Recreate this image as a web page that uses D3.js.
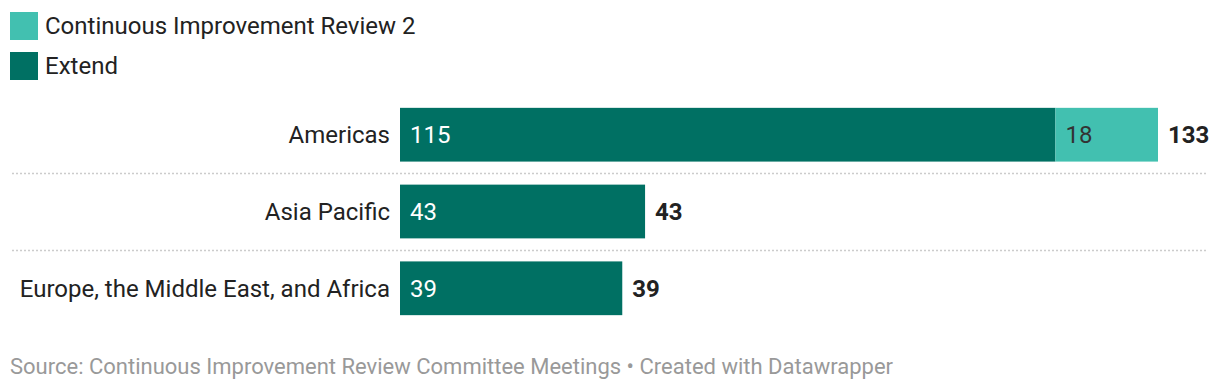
<!DOCTYPE html>
<html>
<head>
<meta charset="utf-8">
<script src="https://cdn.jsdelivr.net/npm/d3@7"></script>
<style>
  body { margin: 0; background: #fff; font-family: Roboto, sans-serif; }
</style>
</head>
<body>
<div id="chart"></div>
<script>
// data
var regions = ['Americas', 'Asia Pacific', 'Europe, the Middle East, and Africa']
var extendVals = [115, 43, 39]
var cirVals = [18, 0, 0]
var seriesNames = ['Continuous Improvement Review 2', 'Extend']
var seriesColors = ['#42c0b0', '#007063']
var sourceText = 'Source: Continuous Improvement Review Committee Meetings \u2022 Created with Datawrapper'

var width = 1220, height = 390

var svg = d3.select('#chart').append('svg')
    .attr('width', width)
    .attr('height', height)
    .style('font-family', 'Roboto, sans-serif')

// legend
var legend = svg.append('g')
seriesNames.forEach(function (name, i) {
    var g = legend.append('g').attr('transform', 'translate(10,' + (12 + i * 40) + ')')
    g.append('rect').attr('width', 28).attr('height', 28).attr('fill', seriesColors[i])
    g.append('text').attr('x', 35).attr('y', 22).attr('font-size', 24).attr('fill', '#222').text(name)
})

var totals = regions.map((r, i) => extendVals[i] + cirVals[i])

var x = d3.scaleLinear().domain([0, d3.max(totals)]).range([400, 1158])
var y = d3.scaleBand().domain(regions).range([104, 319]).paddingInner(0.3).paddingOuter(0.05)

// separators
svg.selectAll('line.sep')
    .data(regions.slice(0, -1))
    .enter().append('line')
    .attr('x1', 12).attr('x2', 1208)
    .attr('y1', d => y(d) + y.bandwidth() + y.step() * 0.15 + 0.5)
    .attr('y2', d => y(d) + y.bandwidth() + y.step() * 0.15 + 0.5)
    .attr('stroke', '#ccc')
    .attr('stroke-width', 1.5)
    .attr('stroke-dasharray', '2,2')

var rows = svg.selectAll('g.row')
    .data(regions)
    .enter().append('g')
    .attr('transform', d => 'translate(0,' + y(d) + ')')

rows.append('text')
    .attr('x', 390).attr('y', y.bandwidth() / 2)
    .attr('dy', '0.35em')
    .attr('text-anchor', 'end')
    .attr('font-size', 24)
    .attr('fill', '#222')
    .text(d => d)

// extend bars
rows.append('rect')
    .attr('x', x(0))
    .attr('width', (d, i) => x(extendVals[i]) - x(0))
    .attr('height', y.bandwidth())
    .attr('fill', seriesColors[1])

rows.append('text')
    .attr('x', x(0) + 10).attr('y', y.bandwidth() / 2)
    .attr('dy', '0.35em')
    .attr('font-size', 24)
    .attr('fill', '#fff')
    .text((d, i) => extendVals[i])

// CIR2 bars
rows.filter((d, i) => cirVals[i] > 0).each(function (d) {
    var i = regions.indexOf(d)
    var g = d3.select(this)
    g.append('rect')
        .attr('x', x(extendVals[i]))
        .attr('width', x(totals[i]) - x(extendVals[i]))
        .attr('height', y.bandwidth())
        .attr('fill', seriesColors[0])
    g.append('text')
        .attr('x', x(extendVals[i]) + 10).attr('y', y.bandwidth() / 2)
        .attr('dy', '0.35em')
        .attr('font-size', 24)
        .attr('fill', '#333')
        .text(cirVals[i])
})

// totals
rows.append('text')
    .attr('x', (d, i) => x(totals[i]) + 10).attr('y', y.bandwidth() / 2)
    .attr('dy', '0.35em')
    .attr('font-size', 24)
    .attr('font-weight', 'bold')
    .attr('fill', '#222')
    .text((d, i) => totals[i])

svg.append('text')
    .attr('x', 10).attr('y', 374)
    .attr('font-size', 22)
    .attr('fill', '#999')
    .text(sourceText)
</script>
</body>
</html>
